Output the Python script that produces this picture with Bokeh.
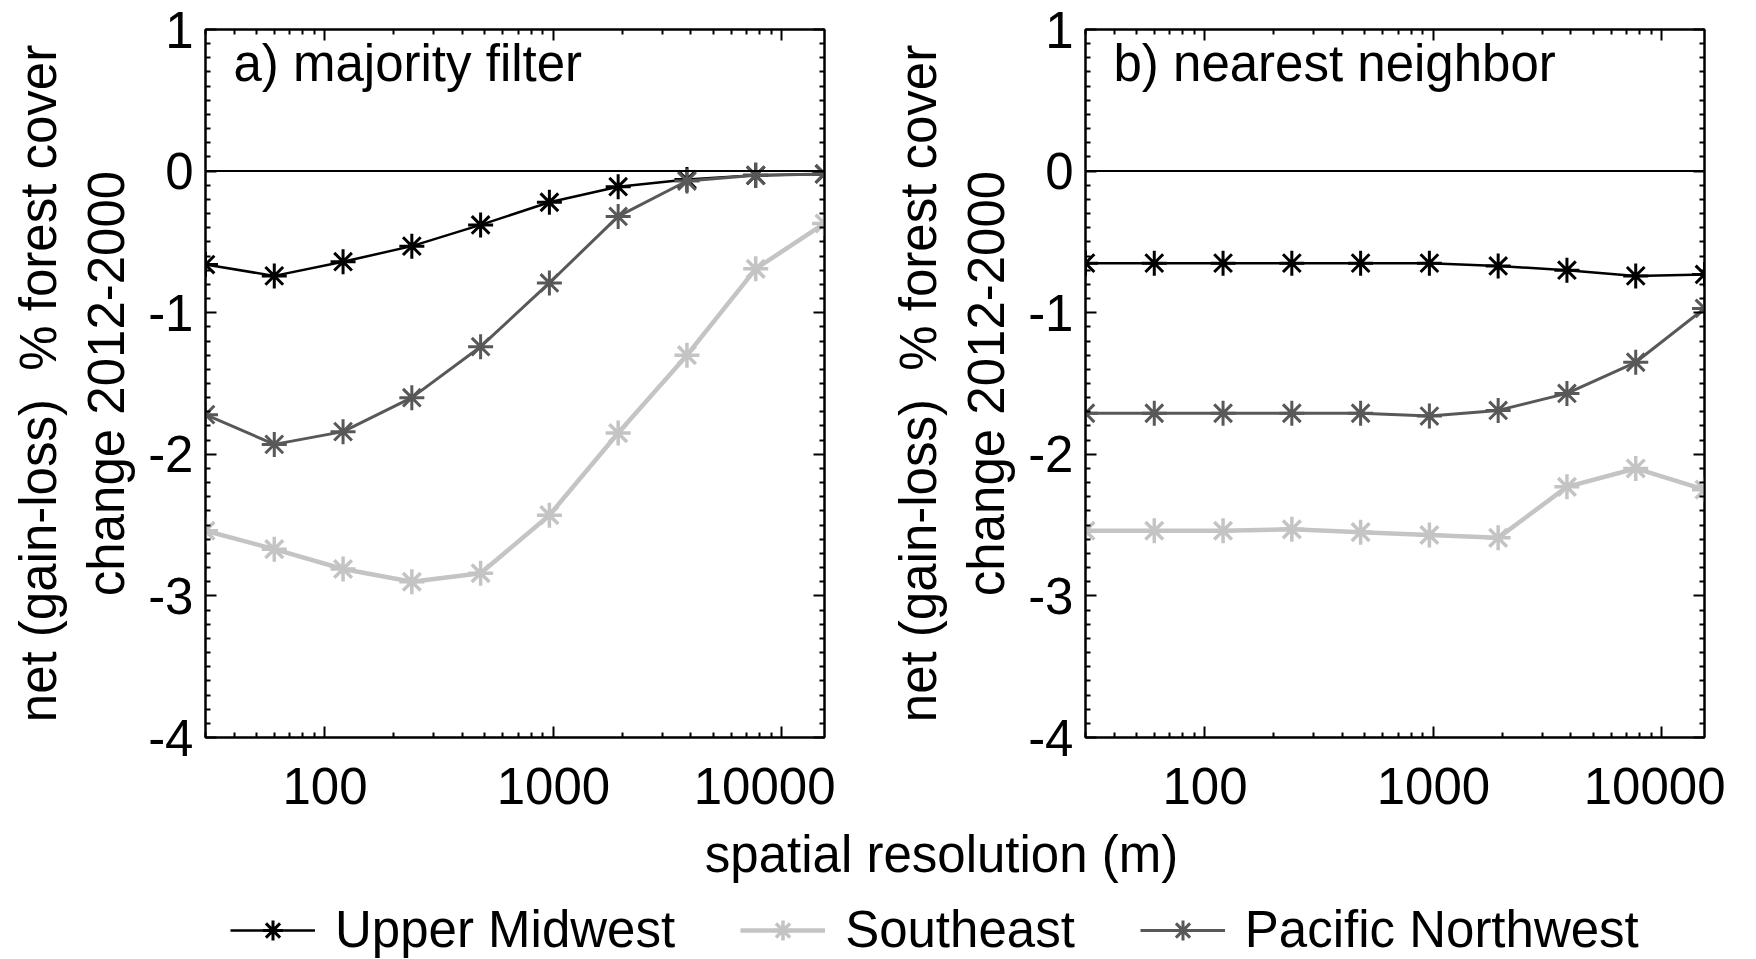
from bokeh.plotting import figure
from bokeh.models import (LogAxis, LinearAxis, FixedTicker, Span, Label, Legend,
                          LegendItem, Range1d, CustomJSTickFormatter)
from bokeh.layouts import column, row
from bokeh.embed import file_html
from bokeh.resources import INLINE

# ---------------- data ----------------
resolution = [30, 60, 120, 240, 480, 960, 1920, 3840, 7680, 15360]

# a) majority filter
maj_upper_midwest = [-0.66, -0.74, -0.64, -0.53, -0.38, -0.22, -0.11, -0.06, -0.03, -0.02]
maj_southeast = [-2.54, -2.67, -2.81, -2.90, -2.84, -2.43, -1.85, -1.30, -0.69, -0.37]
maj_pacific_nw = [-1.72, -1.93, -1.84, -1.60, -1.24, -0.79, -0.32, -0.07, -0.03, -0.02]

# b) nearest neighbor
nn_upper_midwest = [-0.65, -0.65, -0.65, -0.65, -0.65, -0.65, -0.67, -0.70, -0.74, -0.73]
nn_southeast = [-2.54, -2.54, -2.54, -2.53, -2.55, -2.57, -2.59, -2.23, -2.10, -2.25]
nn_pacific_nw = [-1.71, -1.71, -1.71, -1.71, -1.71, -1.73, -1.69, -1.57, -1.35, -0.97]

series_names = ["Upper Midwest", "Southeast", "Pacific Northwest"]
series_colors = ["#000000", "#c4c4c4", "#585858"]
series_line_widths = [2.5, 4.5, 3]
series_marker_widths = [3, 3.5, 3]

x_major = [100, 1000, 10000]
x_labels = ["100", "1000", "10000"]
y_major = [-4, -3, -2, -1, 0, 1]
y_labels = ["-4", "-3", "-2", "-1", "0", "1"]

panel_titles = ["a) majority filter", "b) nearest neighbor"]
y_title = "net (gain-loss)\u00a0 % forest cover\nchange 2012-2000"
x_title = "spatial resolution (m)"

FONT = "Liberation Sans"
FS = "51px"

x_minor = [m * 10 ** e for e in range(1, 5) for m in range(2, 10)]
y_minor = [i / 10 for i in range(-40, 11) if i % 10 != 0]

FRAME_W = 619
TOP = 29
FRAME_H = 737 - TOP
BOTTOM = 87


def style_axis(ax, labels=True):
    ax.axis_line_color = "black"
    ax.axis_line_width = 2
    ax.major_tick_in = 11
    ax.major_tick_out = 0
    ax.minor_tick_in = 5
    ax.minor_tick_out = 0
    ax.major_tick_line_width = 2
    ax.minor_tick_line_width = 2
    ax.major_tick_line_color = "black"
    ax.minor_tick_line_color = "black"
    ax.major_label_text_font = FONT
    ax.major_label_text_font_size = FS
    ax.major_label_text_color = "black"
    if not labels:
        ax.formatter = CustomJSTickFormatter(code="return ''")
        ax.major_label_standoff = 0


def make_panel(title, um, se, pnw, bl, br):
    p = figure(width=bl + FRAME_W + br, height=TOP + FRAME_H + BOTTOM,
               x_axis_type="log",
               x_range=Range1d(min(resolution), max(resolution)),
               y_range=Range1d(min(y_major), max(y_major)),
               output_backend="svg", toolbar_location=None,
               min_border_left=bl, min_border_right=br,
               min_border_top=TOP, min_border_bottom=BOTTOM)
    p.xgrid.visible = False
    p.ygrid.visible = False
    p.outline_line_color = "black"
    p.outline_line_width = 2
    p.background_fill_color = "white"
    p.border_fill_color = "white"

    xa = p.xaxis[0]
    xa.ticker = FixedTicker(ticks=x_major, minor_ticks=x_minor)
    xa.major_label_overrides = {v: s for v, s in zip(x_major, x_labels)}
    style_axis(xa)
    xa.major_label_standoff = 30

    ya = p.yaxis[0]
    ya.ticker = FixedTicker(ticks=y_major, minor_ticks=y_minor)
    ya.major_label_overrides = {v: s for v, s in zip(y_major, y_labels)}
    style_axis(ya)
    ya.major_label_standoff = 12
    ya.axis_label = y_title
    ya.axis_label_text_font = FONT
    ya.axis_label_text_font_size = FS
    ya.axis_label_text_font_style = "normal"
    ya.axis_label_text_color = "black"
    ya.axis_label_standoff = 10
    ya.axis_label_text_line_height = 1.2

    top_ax = LogAxis(ticker=FixedTicker(ticks=x_major, minor_ticks=x_minor))
    style_axis(top_ax, labels=False)
    p.add_layout(top_ax, "above")
    right_ax = LinearAxis(ticker=FixedTicker(ticks=y_major, minor_ticks=y_minor))
    style_axis(right_ax, labels=False)
    p.add_layout(right_ax, "right")

    p.add_layout(Span(location=0, dimension="width", line_color="black", line_width=2))

    for vals, c, lw, mw in zip([um, se, pnw], series_colors, series_line_widths,
                               series_marker_widths):
        p.line(resolution, vals, line_color=c, line_width=lw)
        p.scatter(resolution, vals, marker="asterisk", size=25, line_color=c,
                  line_width=mw)

    p.add_layout(Label(x=28, y=FRAME_H - 34, x_units="screen", y_units="screen",
                       text=title, text_font=FONT, text_font_size=FS,
                       text_color="black", text_baseline="alphabetic"))
    return p


p1 = make_panel(panel_titles[0], maj_upper_midwest, maj_southeast, maj_pacific_nw, 205, 11)
p2 = make_panel(panel_titles[1], nn_upper_midwest, nn_southeast, nn_pacific_nw, 250, 21)

total_w = p1.width + p2.width
p3_h = 959 - p1.height
p3 = figure(width=total_w, height=p3_h, x_range=Range1d(0, 1),
            y_range=Range1d(0, 1), x_axis_type=None, y_axis_type=None,
            output_backend="svg", toolbar_location=None, min_border=0)
p3.outline_line_color = None
p3.xgrid.visible = False
p3.ygrid.visible = False

p3.add_layout(Label(x=941, y=p3_h - 1, x_units="screen", y_units="screen", text=x_title,
                    text_font=FONT, text_font_size=FS, text_color="black",
                    text_align="center", text_baseline="top"))

nan = float("nan")
items = []
for name, c, lw, mw in zip(series_names, series_colors, series_line_widths,
                           series_marker_widths):
    lr = p3.line(x=[nan], y=[nan], line_color=c, line_width=lw)
    sr = p3.scatter(x=[nan], y=[nan], marker="asterisk", line_color=c, line_width=mw)
    items.append(LegendItem(label=name, renderers=[lr, sr]))

legend = Legend(items=items, orientation="horizontal", location=(230, 0),
                glyph_width=85, glyph_height=50, label_standoff=20, spacing=65,
                padding=0, margin=0, border_line_color=None,
                background_fill_alpha=0, label_text_font=FONT,
                label_text_font_size=FS, label_text_color="black")
p3.add_layout(legend)

layout = column(row(p1, p2), p3)

open("out.html", "w").write(file_html(layout, INLINE))
